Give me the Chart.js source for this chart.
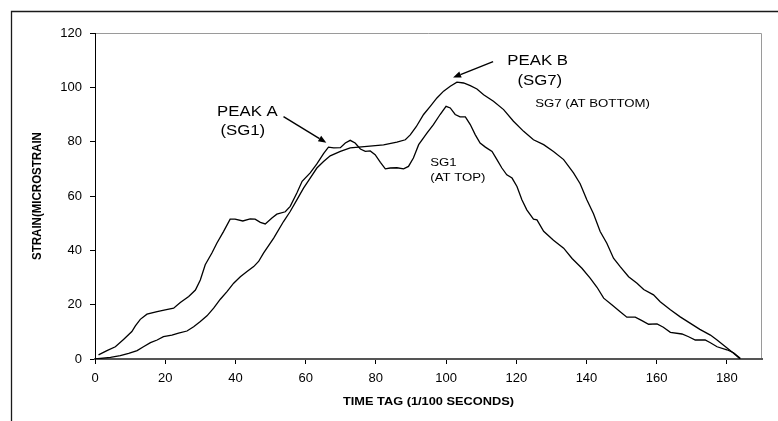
<!DOCTYPE html>
<html>
<head>
<meta charset="utf-8">
<script src="https://cdn.jsdelivr.net/npm/chart.js@4/dist/chart.umd.min.js"></script>
<style>
html,body{margin:0;padding:0;background:#fff;}
#wrap{width:778px;height:421px;position:relative;}
</style>
</head>
<body>
<div id="wrap"><canvas id="c"></canvas></div>
<script>
// ---- data ----
const sg1Time = [1,3.4,5.8,8.2,10.5,11.5,12.9,14.8,17.7,20,22.4,24.3,26.7,28.6,30,31.4,33.3,34.7,36.6,38.5,39.9,42.1,44.2,45.6,47.1,48.5,50.4,51.8,54.2,55.6,57.5,59,61.3,63.2,65.1,66.5,68,69.9,71.3,72.7,74.1,75.6,77,78.4,79.8,81.3,82.7,84.1,86,87.9,89.3,90.7,92.2,94.6,96.4,98.3,100,101.2,102.6,104,105.5,106.9,108.3,109.7,111.2,113.1,114.5,115.9,117.3,118.8,120.2,121.6,123,124.9,125.9,127.8,130.6,133.5,135.9,138.7,141.1,143,144.9,147.3,149.6,151.5,153.9,155.8,157.7,160.1,161.9,163.9,167.2,169.1,171,173.8,175.3,177.2,180,181.9,183.8];
const sg1Strain = [1.5,3.1,4.5,7.3,10.1,12.2,14.6,16.5,17.4,18.1,18.7,20.8,23,25.4,29.1,34.7,39,42.6,46.9,51.5,51.5,50.8,51.6,51.5,50.3,49.7,51.9,53.3,54.2,56.2,61.1,65.4,68.5,71.8,75.6,78,77.7,77.8,79.5,80.5,79.5,77.3,76.4,76.6,75.2,72.4,70,70.3,70.4,70,70.9,74,78.9,83.2,86.3,90,93,92.4,90,89.1,89.1,86.3,82.6,79.5,78,76.4,73.4,70.3,67.8,66.6,63.5,58.6,54.9,51.5,51.2,47,43.7,40.8,37,33.4,29.7,26.4,22.4,19.9,17.4,15.4,15.4,14.1,12.8,12.9,11.7,9.8,9.2,8.2,7,7,6,4.5,3.4,2.3,0.3];

const sg7Time = [0,1.5,4.4,7.2,9.6,12,13.8,15.8,17.7,19.5,21.9,23.8,26.2,28.1,30,31.9,33.8,35.7,37.6,39.5,41.4,43.3,45.2,46.6,48,50.9,53.7,55.6,57.5,59.4,61.3,63.2,65.1,67,69.9,72.7,77.5,82.2,86,88.4,89.8,91.5,93.6,95.5,97.4,99.3,101.2,103.1,105,106.9,108.8,110.7,113.5,116.4,119.2,122.1,124.9,127.8,130.6,133.5,136.3,138.2,140.1,142,143.9,145.8,147.7,149.6,152,154.4,156.3,159.1,161,163.9,166.7,169.5,172.3,175.3,177.2,179.6,181.9,183.8];
const sg7Strain = [0,0.2,0.6,1.2,2.1,3.1,4.5,6,7,8.2,8.8,9.5,10.3,11.9,13.8,15.9,18.7,22,24.8,27.9,30.3,32.2,34,35.9,39,44.5,50.6,54.3,58.6,62.9,66.6,70.3,72.7,74.8,76.4,77.7,78.3,78.8,79.8,80.7,82.5,85.5,90,93,96.1,98.6,100.4,101.9,101.6,100.6,99.4,97.3,94.9,91.8,87.5,83.8,80.7,78.9,76.4,73.4,68.5,64.5,58.6,53.5,46.9,42.6,37.1,34,30.3,27.9,25.6,23.6,21.1,18.1,15.5,13.2,10.9,8.8,7,4.5,2.1,0];

const xTickValues = [0,20,40,60,80,100,120,140,160,180];
const yTickValues = [0,20,40,60,80,100,120];
const xTitle = 'TIME TAG (1/100 SECONDS)';
const yTitle = 'STRAIN(MICROSTRAIN';

// annotations (placed in data units)
const noteTexts = ['PEAK A','(SG1)','PEAK B','(SG7)','SG7 (AT BOTTOM)','SG1','(AT TOP)'];
const noteAt = [[43.4,90.7],[42.1,83.7],[126.1,109.5],[126.7,102.1],[125.4,94],[95.5,72.3],[95.5,66.7]];
const noteSize = [14,14,14,14,11,11,11];
const noteAlign = ['center','center','center','center','left','left','left'];
const arrowFrom = [[53.7,89.2],[113.4,109.5]];
const arrowTo = [[65.9,79.6],[102,103.6]];

const FONT = "'Liberation Sans', Arial, Helvetica, sans-serif";
const STRETCH = 1.2;

function stretchedText(ctx, text, x, y, align, sx){
  ctx.save();
  ctx.translate(x, y);
  ctx.scale(sx, 1);
  ctx.textAlign = align;
  ctx.textBaseline = 'middle';
  ctx.fillText(text, 0, 0);
  ctx.restore();
}

const decor = {
  id: 'decor',
  beforeDraw(chart){
    const ctx = chart.ctx;
    ctx.save();
    ctx.strokeStyle = '#1a1a1a';
    ctx.lineWidth = 1.3;
    ctx.beginPath();
    ctx.moveTo(11.5, 421);
    ctx.lineTo(11.5, 11.5);
    ctx.lineTo(778, 11.5);
    ctx.stroke();
    const a = chart.chartArea;
    ctx.strokeStyle = '#9a9a9a';
    ctx.lineWidth = 1;
    ctx.beginPath();
    ctx.moveTo(a.left, a.top + 0.5);
    ctx.lineTo(a.right - 0.5, a.top + 0.5);
    ctx.lineTo(a.right - 0.5, a.bottom);
    ctx.stroke();
    ctx.restore();
  },
  afterDraw(chart){
    const ctx = chart.ctx;
    const xs = chart.scales.x, ys = chart.scales.y;
    const a = chart.chartArea;
    ctx.save();
    ctx.fillStyle = '#000';
    // axis titles
    ctx.font = 'bold 10px ' + FONT;
    stretchedText(ctx, xTitle, (a.left + a.right) / 2, 402, 'center', 1.28);
    ctx.save();
    ctx.translate(37, (a.top + a.bottom) / 2);
    ctx.rotate(-Math.PI / 2);
    ctx.font = 'bold 11.5px ' + FONT;
    ctx.textAlign = 'center';
    ctx.textBaseline = 'middle';
    ctx.scale(1, 1.15);
    ctx.fillText(yTitle, 0, 0);
    ctx.restore();
    // notes
    for (let i = 0; i < noteTexts.length; i++) {
      ctx.font = noteSize[i] + 'px ' + FONT;
      stretchedText(ctx, noteTexts[i], xs.getPixelForValue(noteAt[i][0]), ys.getPixelForValue(noteAt[i][1]), noteAlign[i], STRETCH);
    }
    // arrows
    ctx.strokeStyle = '#000';
    ctx.lineWidth = 1.4;
    for (let i = 0; i < arrowFrom.length; i++) {
      const x1 = xs.getPixelForValue(arrowFrom[i][0]), y1 = ys.getPixelForValue(arrowFrom[i][1]);
      const x2 = xs.getPixelForValue(arrowTo[i][0]), y2 = ys.getPixelForValue(arrowTo[i][1]);
      const ang = Math.atan2(y2 - y1, x2 - x1);
      const L = 8, W = 3.2;
      const bx = x2 - L * Math.cos(ang), by = y2 - L * Math.sin(ang);
      ctx.beginPath();
      ctx.moveTo(x1, y1);
      ctx.lineTo(bx, by);
      ctx.stroke();
      ctx.beginPath();
      ctx.moveTo(x2, y2);
      ctx.lineTo(bx + W * Math.sin(ang), by - W * Math.cos(ang));
      ctx.lineTo(bx - W * Math.sin(ang), by + W * Math.cos(ang));
      ctx.closePath();
      ctx.fill();
    }
    ctx.restore();
  }
};

const toPoints = (ts, vs) => ts.map((t, i) => ({x: t, y: vs[i]}));

new Chart(document.getElementById('c'), {
  type: 'line',
  data: {
    datasets: [
      {label: 'SG1 (AT TOP)', data: toPoints(sg1Time, sg1Strain), borderColor: '#000', borderWidth: 1.3, pointRadius: 0, fill: false, tension: 0},
      {label: 'SG7 (AT BOTTOM)', data: toPoints(sg7Time, sg7Strain), borderColor: '#000', borderWidth: 1.3, pointRadius: 0, fill: false, tension: 0}
    ]
  },
  options: {
    responsive: true,
    maintainAspectRatio: false,
    animation: false,
    devicePixelRatio: 1,
    layout: {padding: {left: 0, right: 16, top: 33, bottom: 0}},
    plugins: {legend: {display: false}, tooltip: {enabled: false}, title: {display: false}},
    scales: {
      x: {
        type: 'linear', min: 0, max: 190,
        afterBuildTicks: s => { s.ticks = xTickValues.map(v => ({value: v})); },
        afterFit: s => { s.height = 62; },
        grid: {drawOnChartArea: false, drawTicks: true, tickLength: 5, color: '#000', lineWidth: 1},
        border: {color: '#555', width: 2},
        ticks: {font: {family: FONT, size: 13}, color: '#000', padding: 7, maxRotation: 0}
      },
      y: {
        type: 'linear', min: 0, max: 120,
        afterBuildTicks: s => { s.ticks = yTickValues.map(v => ({value: v})); },
        afterFit: s => { s.width = 95; },
        grid: {drawOnChartArea: false, drawTicks: true, tickLength: 5, color: '#000', lineWidth: 1},
        border: {color: '#000', width: 1},
        ticks: {font: {family: FONT, size: 13}, color: '#000', padding: 8}
      }
    }
  },
  plugins: [decor]
});
</script>
</body>
</html>
